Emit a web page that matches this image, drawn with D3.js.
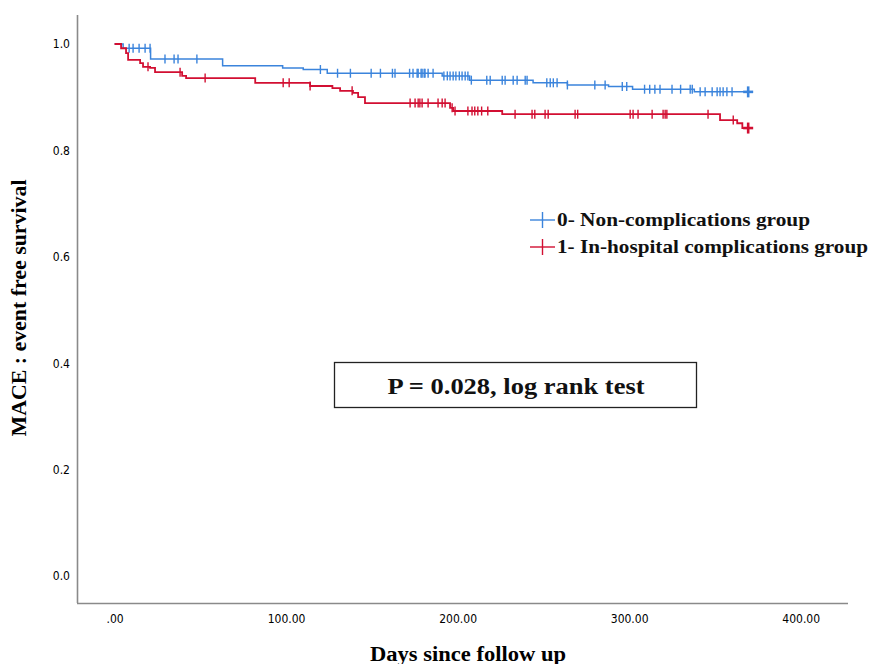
<!DOCTYPE html>
<html>
<head>
<meta charset="utf-8">
<script src="https://cdn.jsdelivr.net/npm/d3@7/dist/d3.min.js"></script>
<style>
  html, body { margin: 0; padding: 0; background: #fff; }
  svg { display: block; }
</style>
</head>
<body>
<svg id="chart" width="869" height="664"></svg>
<script>
// ---- Data ----
const seriesNames = ["0- Non-complications group", "1- In-hospital complications group"];
const xTicks = [0, 100, 200, 300, 400];
const yTicks = [0.0, 0.2, 0.4, 0.6, 0.8, 1.0];

// Step events: day of event, survival after event
const blueStepDays = [0, 5, 21, 63, 98, 110, 124, 191, 207, 244, 264, 288, 302, 338, 369.4];
const blueStepSurv = [1.0, 0.992, 0.972, 0.959, 0.955, 0.952, 0.945, 0.940, 0.932, 0.927, 0.923, 0.920, 0.915, 0.910, 0.910];
const blueCensor = [8.5, 10.8, 14.3, 17.8, 20.7, 29.4, 34.7, 37, 48, 120, 130, 137.5, 149.6, 155, 162, 163.5,
  172, 174, 176.4, 177, 178.7, 180.5, 179.3, 181, 182.8, 185.7, 192, 194, 195.6, 197.4, 199, 201, 202.6,
  204.4, 206, 208, 217, 219, 226, 227.7, 232.4, 234.7, 239.4, 240.5, 252, 254, 255.8, 258, 264, 280, 286,
  296, 298.6, 309, 312, 315, 318, 325, 330, 335.6, 336.8, 341.4, 344.3, 348.4, 351.3, 353, 354.8, 357, 360];
const blueLast = 369.4;

const redStepDays = [0, 3.8, 6.7, 7.9, 14.9, 16.6, 20.7, 23.6, 39.4, 41.7, 82, 114, 127, 131.5, 139, 142, 146,
  195.6, 197.4, 226, 353, 363, 366, 369.4];
const redStepSurv = [1.0, 0.992, 0.983, 0.970, 0.964, 0.957, 0.955, 0.947, 0.940, 0.936, 0.927, 0.921, 0.917,
  0.912, 0.908, 0.900, 0.889, 0.880, 0.874, 0.868, 0.857, 0.851, 0.842, 0.842];
const redCensor = [19.5, 38.2, 52.8, 98.3, 101.8, 114, 138.5, 172.3, 175.2, 177, 178, 179.3, 182.8, 188.6, 191,
  192.7, 196.8, 198.5, 206, 208.4, 210, 211.8, 214, 217.6, 233.5, 243.4, 245, 251, 252.8, 268.5, 270, 300.6,
  302.3, 305.2, 313.4, 319.8, 321, 322, 346, 360.7];
const redLast = 369.4;

const pText = "P = 0.028, log rank test";
const xTitle = "Days since follow up";
const yTitle = "MACE : event free survival";

// ---- Layout ----
const colors = ["#3b84dc", "#d20f32"];
const serif = "'Liberation Serif', 'Times New Roman', serif";
const svg = d3.select("#chart");
const x = d3.scaleLinear().domain([-21.9, 427.6]).range([77, 848]);
const y = d3.scaleLinear().domain([-0.0508, 1.0545]).range([603, 15]);

// Axes
const xAxis = d3.axisBottom(x).tickValues(xTicks).tickSize(0).tickPadding(11)
  .tickFormat(d => d3.format(".2f")(d).replace(/^0\./, "."));
const yAxis = d3.axisLeft(y).tickValues(yTicks).tickSize(0).tickPadding(7)
  .tickFormat(d3.format(".1f"));

const gx = svg.append("g").attr("transform", "translate(0,603)").call(xAxis);
const gy = svg.append("g").attr("transform", "translate(77,0)").call(yAxis);
[gx, gy].forEach(g => {
  g.select(".domain").attr("stroke", "#8a8a8a").attr("stroke-width", 1.6);
  g.selectAll("text").attr("fill", "#000").style("font-family", "'DejaVu Sans Condensed', 'DejaVu Sans', sans-serif")
    .style("font-size", "12px");
});
gx.select(".domain").attr("d", "M77,0.5H848");
gy.select(".domain").attr("d", "M0.5,15V603");

// Titles
svg.append("text").attr("x", 468).attr("y", 661).attr("text-anchor", "middle")
  .attr("textLength", 196).attr("lengthAdjust", "spacingAndGlyphs")
  .style("font-family", serif).style("font-weight", "bold").style("font-size", "20px")
  .text(xTitle);
svg.append("text").attr("transform", "translate(26,308) rotate(-90)").attr("text-anchor", "middle")
  .attr("textLength", 257).attr("lengthAdjust", "spacingAndGlyphs")
  .style("font-family", serif).style("font-weight", "bold").style("font-size", "20px")
  .text(yTitle);

// Curves
function survAt(days, surv, t) {
  let s = surv[0];
  for (let i = 0; i < days.length; i++) { if (days[i] <= t) s = surv[i]; }
  return s;
}
const line = d3.line().x(d => x(d[0])).y(d => y(d[1])).curve(d3.curveStepAfter);
const series = [
  { days: blueStepDays, surv: blueStepSurv, cens: blueCensor, last: blueLast, color: colors[0], w: 1.5 },
  { days: redStepDays, surv: redStepSurv, cens: redCensor, last: redLast, color: colors[1], w: 1.8 }
];
series.forEach(s => {
  const pts = s.days.map((d, i) => [d, s.surv[i]]);
  svg.append("path").datum(pts).attr("d", line).attr("fill", "none")
    .attr("stroke", s.color).attr("stroke-width", s.w);
  const g = svg.append("g").attr("stroke", s.color);
  s.cens.forEach(t => {
    const cx = x(t), cy = y(survAt(s.days, s.surv, t));
    g.append("line").attr("x1", cx).attr("x2", cx).attr("y1", cy - 4.5).attr("y2", cy + 4.5).attr("stroke-width", 1.4);
  });
  const lx = x(s.last), ly = y(survAt(s.days, s.surv, s.last));
  g.append("line").attr("x1", lx).attr("x2", lx).attr("y1", ly - 5.5).attr("y2", ly + 5.5).attr("stroke-width", 2.6);
  g.append("line").attr("x1", lx - 5).attr("x2", lx + 5).attr("y1", ly).attr("y2", ly).attr("stroke-width", 2.6);
});

// Legend
const legY = [220, 247];
const legLen = [253, 311];
seriesNames.forEach((name, i) => {
  const g = svg.append("g");
  g.append("line").attr("x1", 530).attr("x2", 555).attr("y1", legY[i]).attr("y2", legY[i])
    .attr("stroke", colors[i]).attr("stroke-width", 1.4);
  g.append("line").attr("x1", 542.5).attr("x2", 542.5).attr("y1", legY[i] - 8).attr("y2", legY[i] + 8)
    .attr("stroke", colors[i]).attr("stroke-width", 1.4);
  g.append("text").attr("x", 557).attr("y", legY[i] + 6)
    .attr("textLength", legLen[i]).attr("lengthAdjust", "spacingAndGlyphs")
    .style("font-family", serif).style("font-weight", "bold").style("font-size", "19px")
    .attr("fill", "#111").text(name);
});

// P-value box
svg.append("rect").attr("x", 334.5).attr("y", 362.5).attr("width", 362).attr("height", 45)
  .attr("fill", "#fff").attr("stroke", "#222").attr("stroke-width", 1.3);
svg.append("text").attr("x", 516).attr("y", 394).attr("text-anchor", "middle")
  .attr("textLength", 257).attr("lengthAdjust", "spacingAndGlyphs")
  .style("font-family", serif).style("font-weight", "bold").style("font-size", "23px")
  .attr("fill", "#111").text(pText);
</script>
</body>
</html>
